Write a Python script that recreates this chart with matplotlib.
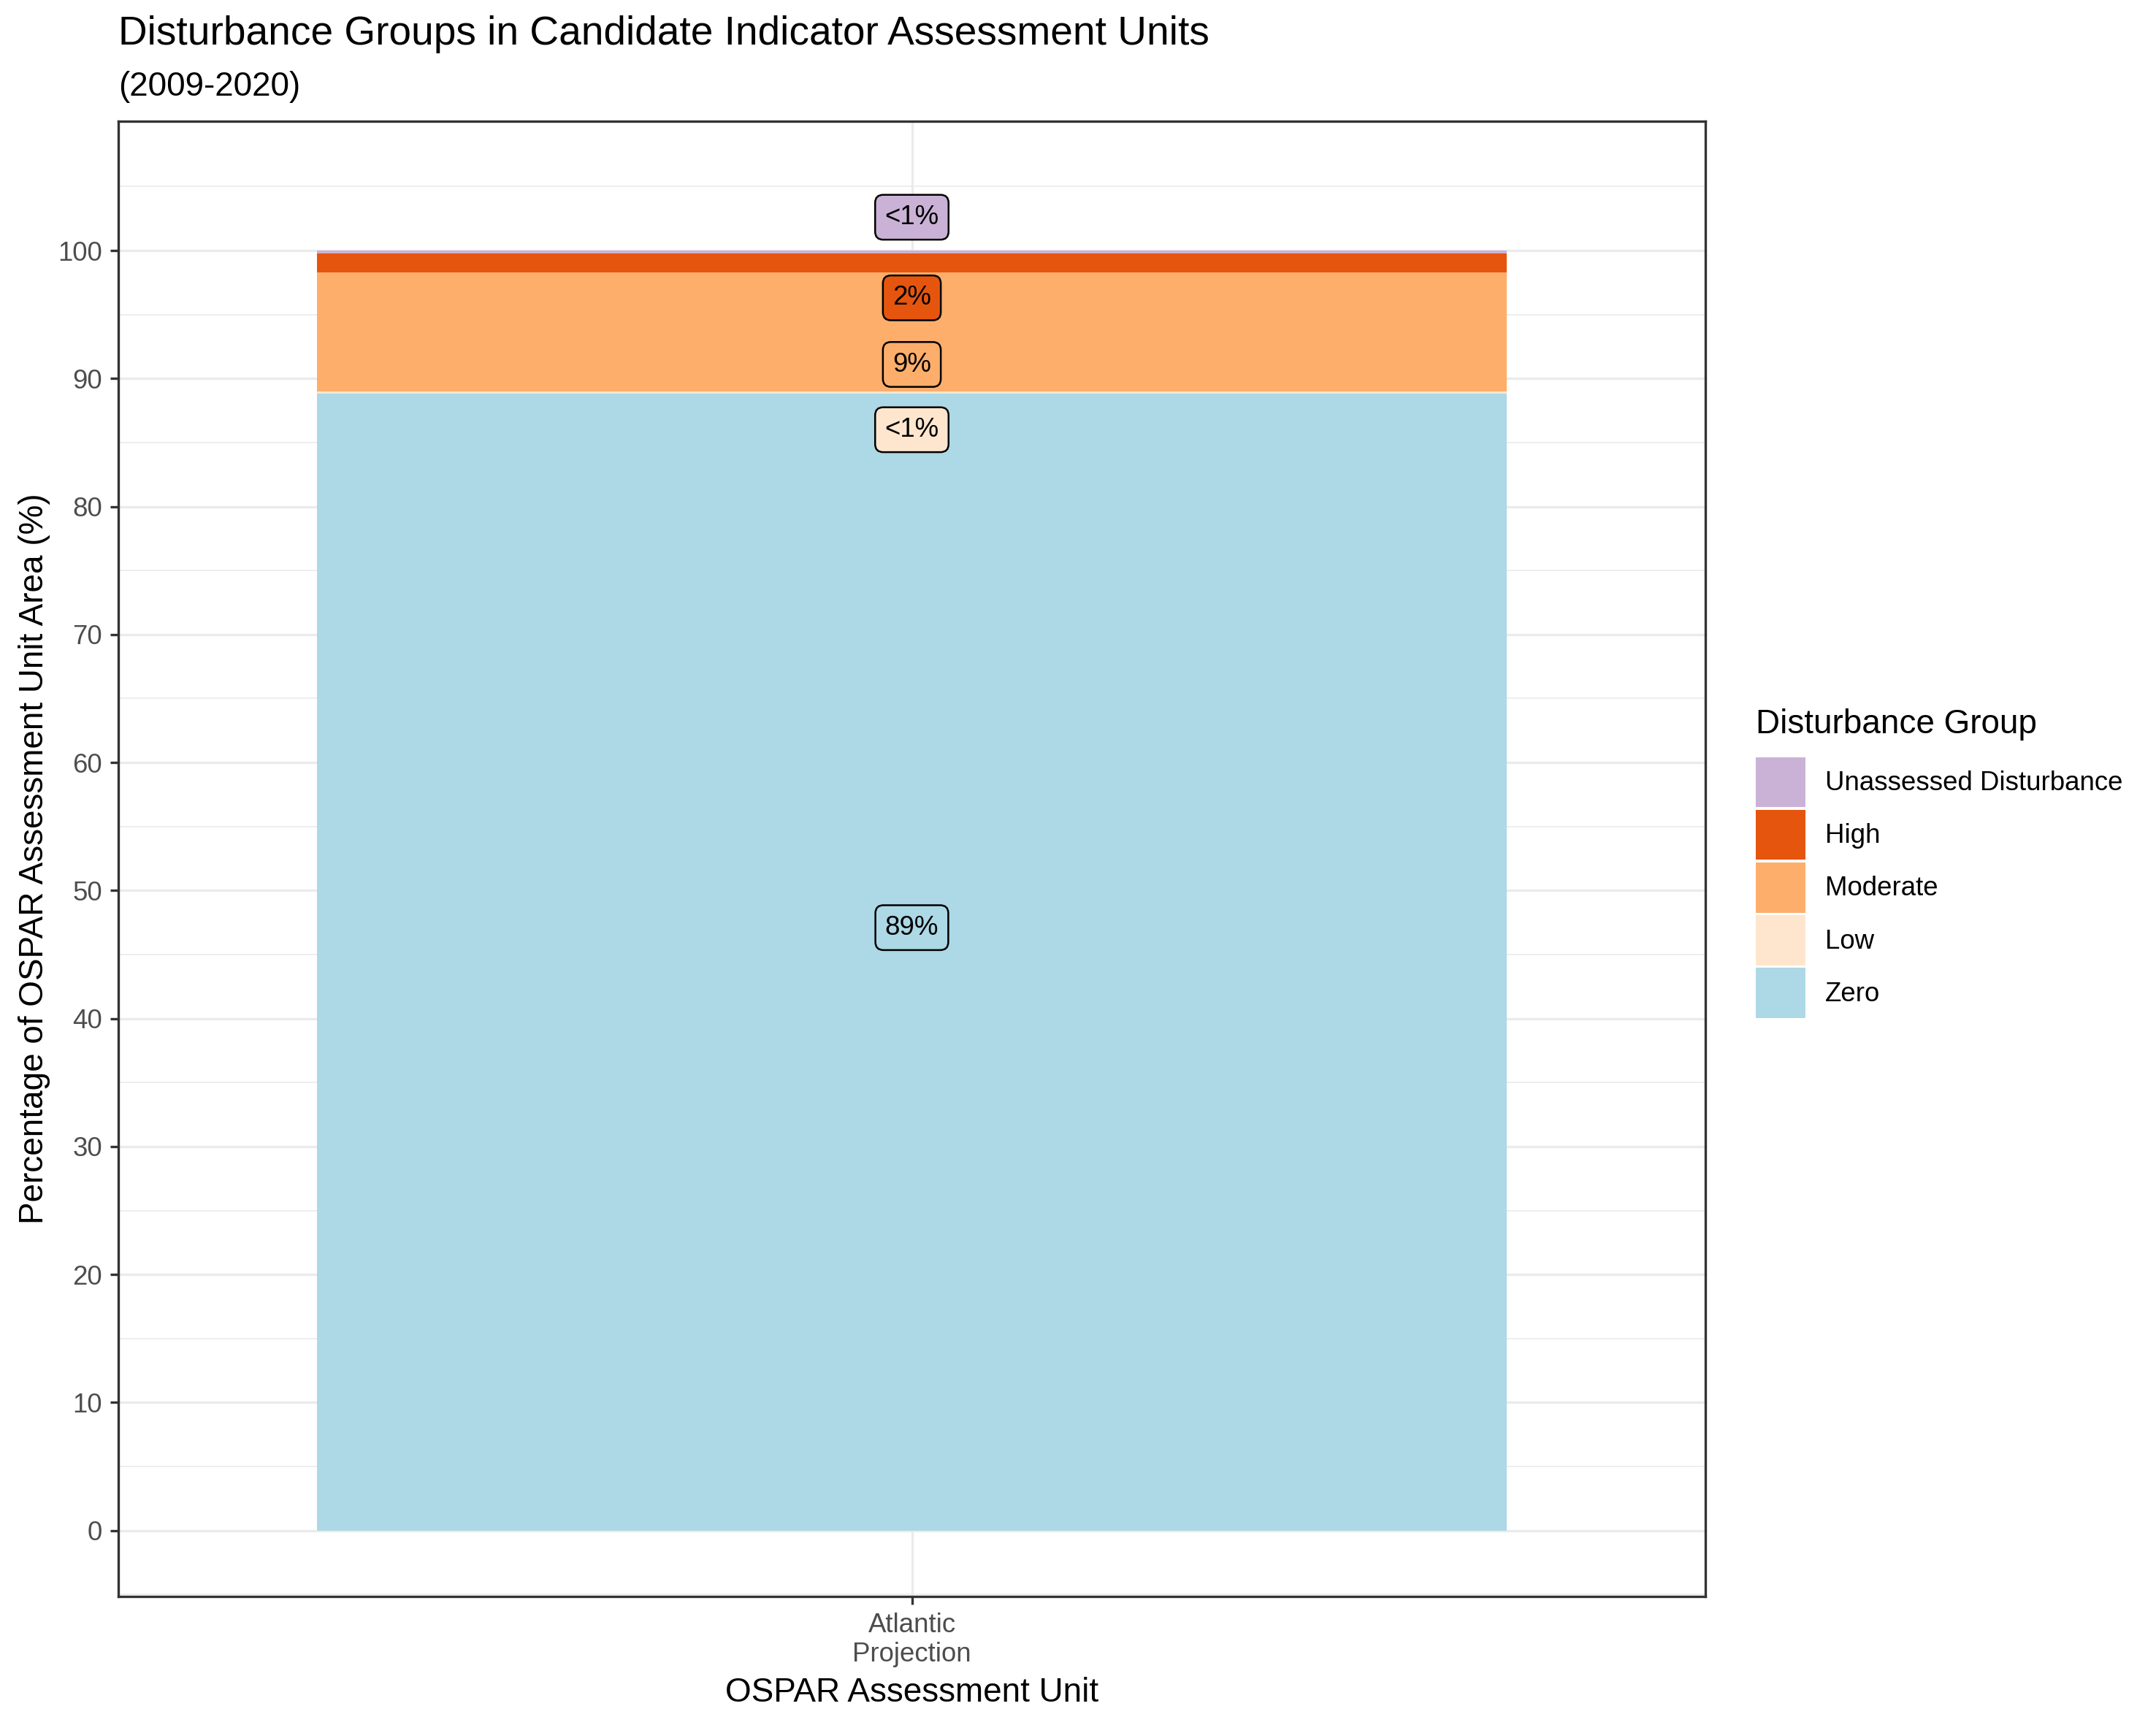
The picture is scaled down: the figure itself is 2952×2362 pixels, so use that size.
"""Stacked bar of disturbance groups for one OSPAR assessment unit (ggplot-like look)."""

import matplotlib

matplotlib.use("Agg")
import matplotlib.pyplot as plt
from matplotlib.patches import Patch

plt.rcParams["font.family"] = ["Liberation Sans", "DejaVu Sans"]

# data, bottom of stack first
units = ["Atlantic\nProjection"]
groups = ["Zero", "Low", "Moderate", "High", "Unassessed Disturbance"]
shares = [88.8, 0.2, 9.3, 1.5, 0.2]
share_labels = ["89%", "<1%", "9%", "2%", "<1%"]
colors = ["#ADD8E6", "#FEE6CE", "#FDAE6B", "#E6550D", "#CAB2D6"]

# label positions as placed (repelled) in the original, same order as groups
label_y = [47.1, 86.0, 91.1, 96.3, 102.6]

W, H, DPI = 2952, 2362, 300
fig = plt.figure(figsize=(W / DPI, H / DPI), dpi=DPI)
ax = fig.add_axes([162 / W, 1 - 2186 / H, (2335 - 162) / W, (2186 - 166) / H])

x = list(range(1, len(units) + 1))
bottom = 0.0
for grp, val, col in zip(groups, shares, colors):
    ax.bar(x, [val], bottom=[bottom], width=0.9, color=col, edgecolor="none",
           label=grp, zorder=2)
    bottom += val

for ly, txt, col in zip(label_y, share_labels, colors):
    ax.text(x[0], ly, txt, ha="center", va="center", fontsize=8.8, zorder=4,
            bbox=dict(boxstyle="round,pad=0.36,rounding_size=0.3", fc=col,
                      ec="black", lw=0.6))

ax.set_xlim(0.4, len(units) + 0.6)
ax.set_ylim(-5.15, 110.1)
ax.set_xticks(x)
ax.set_xticklabels(units)
ax.set_yticks(range(0, 101, 10))
ax.set_yticks([v + 5 for v in range(-10, 101, 10)], minor=True)
ax.tick_params(axis="both", which="major", colors="#333333", labelcolor="#4D4D4D",
               labelsize=8.8, length=2.75, width=0.8, pad=2.5)
ax.tick_params(axis="both", which="minor", length=0)
ax.grid(True, which="major", color="#EBEBEB", lw=0.8, zorder=0)
ax.grid(True, which="minor", axis="y", color="#EBEBEB", lw=0.4, zorder=0)
ax.set_axisbelow(True)
for sp in ax.spines.values():
    sp.set_color("#333333")
    sp.set_linewidth(0.8)

ax.set_ylabel("Percentage of OSPAR Assessment Unit Area (%)", fontsize=11, labelpad=2.5)
ax.set_xlabel("OSPAR Assessment Unit", fontsize=11, labelpad=3)

fig.text(162 / W, 1 - 47 / H, "Disturbance Groups in Candidate Indicator Assessment Units",
         fontsize=13.2, ha="left", va="center")
fig.text(162 / W, 1 - 119 / H, "(2009-2020)", fontsize=11, ha="left", va="center")

handles = [Patch(facecolor=c, edgecolor="none") for c in colors][::-1]
leg = fig.legend(handles, groups[::-1], title="Disturbance Group", loc="upper left",
                 bbox_to_anchor=(2404 / W, 1 - 970 / H), frameon=False,
                 fontsize=8.8, title_fontsize=11, handlelength=1.85,
                 handleheight=2.5, labelspacing=0.1, handletextpad=0.75,
                 borderpad=0, borderaxespad=0, alignment="left")
leg._legend_box.sep = 5.4

fig.savefig("out.png", dpi=DPI)
